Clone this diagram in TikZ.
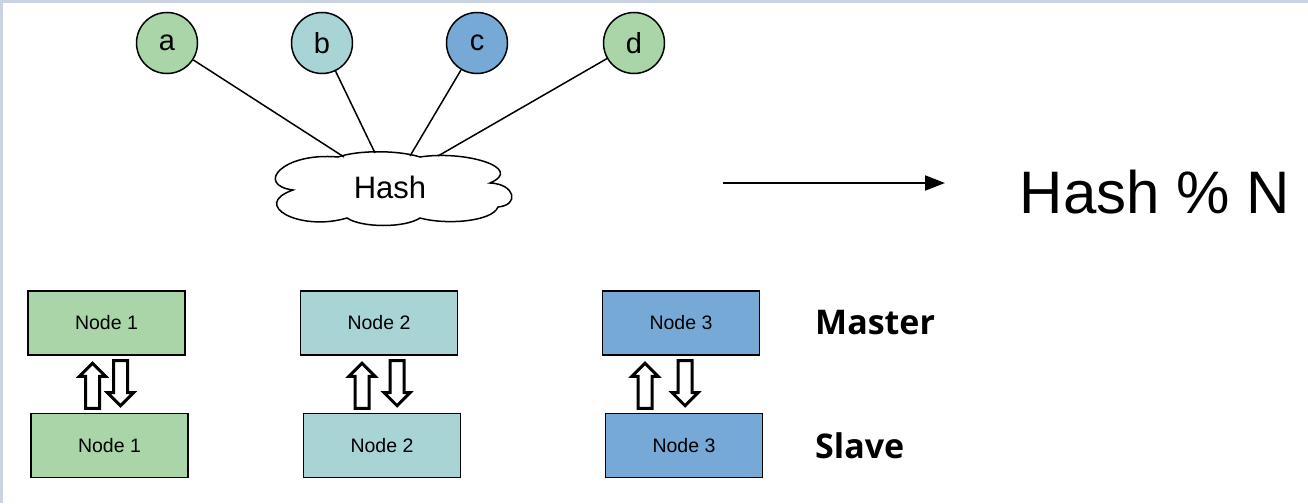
\documentclass[tikz,border=0pt]{standalone}
\usepackage{fontspec}
\setmainfont{Liberation Sans}
\newfontfamily\rolefont{Open Sans}
\usepackage{tikz}
\usetikzlibrary{arrows.meta, positioning, shapes.arrows}
\definecolor{keygreen}{HTML}{A9D5A9}
\definecolor{keyteal}{HTML}{A8D4D6}
\definecolor{keyblue}{HTML}{76A9D5}
\definecolor{framestrip}{HTML}{C9D3E3}
\tikzset{
  keycirc/.style={draw, circle, line width=1.5pt, minimum size=61pt,
                  inner sep=0pt, font=\fontsize{29}{32}\selectfont},
  cloudln/.style={draw, line width=1.5pt, fill=white},
  hashlbl/.style={inner sep=0pt, font=\fontsize{31}{34}\selectfont},
  srvbox/.style={draw, rectangle, line width=1.5pt, minimum width=157pt,
                 minimum height=64pt, inner sep=0pt,
                 font=\fontsize{19.5}{22}\selectfont},
  syncarr/.style={draw, single arrow, line width=3pt, fill=white,
                  inner xsep=0pt, inner ysep=5.5pt, minimum height=45pt,
                  single arrow head extend=6pt},
  rolelbl/.style={anchor=west, inner sep=0pt,
                  font=\rolefont\bfseries\fontsize{34}{38}\selectfont},
  linkln/.style={line width=1.5pt},
  maparr/.style={-{Triangle[length=20pt, width=15pt]}, line width=2pt},
}
\begin{document}
\begin{tikzpicture}[x=1pt, y=-1pt]
\useasboundingbox (0,0) rectangle (1308,503);
\fill[white] (0,0) rectangle (1308,503);
\fill[framestrip] (0,0) rectangle (1308,3);
\fill[framestrip] (0,0) rectangle (3,503);
% keys and the hash cloud
\node[keycirc, fill=keygreen] (ka) at (167,43) {a};
\node[keycirc, fill=keyteal] (kb) at (322,43) {b};
\node[keycirc, fill=keyblue] (kc) at (477,43) {c};
\node[keycirc, fill=keygreen] (kd) at (634,43) {d};
\path[cloudln] (338,157) .. controls (358,150) and (398,150) .. (420,157)
  .. controls (465,150) and (525,168) .. (490,183)
  .. controls (515,184) and (520,205) .. (498,207)
  .. controls (492,222) and (445,225) .. (420,218)
  .. controls (405,228) and (362,228) .. (347,218)
  .. controls (300,232) and (250,205) .. (293,190)
  .. controls (255,185) and (282,152) .. cycle;
\node[hashlbl] (hash) at (390,187) {Hash};
\coordinate (hin1) at (344,157);
\coordinate (hin2) at (375,153);
\coordinate (hin3) at (410,156);
\coordinate (hin4) at (438,156);
\draw[linkln] (ka) -- (hin1);
\draw[linkln] (kb) -- (hin2);
\draw[linkln] (kc) -- (hin3);
\draw[linkln] (kd) -- (hin4);
% mapping to a server
\coordinate (mapfrom) at (723,183);
\coordinate (mapto) at (945,183);
\draw[maparr] (mapfrom) -- (mapto);
\node[font=\fontsize{60}{66}\selectfont, inner sep=0pt] (modn) at (1155,192) {Hash \% N};
% master / slave pairs
\node[srvbox, fill=keygreen] (m1) at (106.5,323) {Node 1};
\node[srvbox, fill=keygreen] (s1) at (109.5,445.5) {Node 1};
\node[srvbox, fill=keyteal] (m2) at (379,323) {Node 2};
\node[srvbox, fill=keyteal] (s2) at (382,445.5) {Node 2};
\node[srvbox, fill=keyblue] (m3) at (681,323) {Node 3};
\node[srvbox, fill=keyblue] (s3) at (684,445.5) {Node 3};
\node[syncarr, rotate=90, anchor=tail] (up1) at ([xshift=-17pt, yshift=3pt]s1.north) {};
\node[syncarr, rotate=-90, anchor=tip] (dn1) at ([xshift=11pt, yshift=5pt]s1.north) {};
\node[syncarr, rotate=90, anchor=tail] (up2) at ([xshift=-20pt, yshift=3pt]s2.north) {};
\node[syncarr, rotate=-90, anchor=tip] (dn2) at ([xshift=15pt, yshift=5pt]s2.north) {};
\node[syncarr, rotate=90, anchor=tail] (up3) at ([xshift=-39pt, yshift=3pt]s3.north) {};
\node[syncarr, rotate=-90, anchor=tip] (dn3) at ([xshift=1pt, yshift=5pt]s3.north) {};
\node[rolelbl] (master) at (815,323) {Master};
\node[rolelbl] (slave) at (master.west |- s3) {Slave};
\end{tikzpicture}
\end{document}
